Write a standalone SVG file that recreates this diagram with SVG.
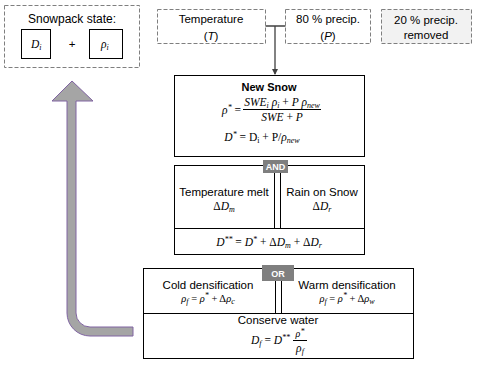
<svg xmlns="http://www.w3.org/2000/svg" width="477" height="365" viewBox="0 0 477 365">
<defs>
<style>
.t{font-family:"Liberation Sans",Arial,sans-serif;font-size:11.5px;fill:#000;text-anchor:middle}
.h{font-family:"Liberation Sans",Arial,sans-serif;font-size:11px;font-weight:bold;fill:#000;text-anchor:middle}
.m{font-family:"Liberation Serif","Times New Roman",serif;font-size:11.5px;font-style:italic;fill:#000}
.mc{text-anchor:middle}
.u{font-style:normal}
.s{font-size:8px}
.box{fill:#fff;stroke:#000;stroke-width:1}
.dash{fill:#fff;stroke:#7f7f7f;stroke-width:1;stroke-dasharray:4,2}
.tag{fill:#7f7f7f}
.tagt{font-family:"Liberation Sans",Arial,sans-serif;font-size:9px;font-weight:bold;fill:#fff;text-anchor:middle}
.ln{stroke:#000;stroke-width:1;fill:none}
.gl{stroke:#404040;stroke-width:1.3;fill:none}
</style>
<marker id="ah" markerWidth="6" markerHeight="6" refX="5" refY="3" orient="auto" markerUnits="userSpaceOnUse">
<path d="M0,0 L6,3 L0,6 Z" fill="#404040"/>
</marker>
</defs>

<g id="snowpack">
<rect class="dash" x="4.5" y="5.5" width="135" height="62"/>
<text class="t" x="72" y="23" style="font-size:12px">Snowpack state:</text>
<rect class="box" x="21.5" y="29.5" width="29" height="29"/>
<text class="m" x="31" y="48">D<tspan class="s" dy="2">i</tspan></text>
<text class="t" x="72" y="48">+</text>
<rect class="box" x="89.5" y="29.5" width="33" height="29"/>
<text class="m" x="101" y="48">ρ<tspan class="s" dy="2">i</tspan></text>
</g>

<g id="temperature">
<rect class="dash" x="157.5" y="9.5" width="108" height="34"/>
<text class="t" x="211" y="23">Temperature</text>
<text class="t" x="211" y="40">(<tspan style="font-style:italic">T</tspan>)</text>
</g>

<g id="precip">
<rect class="dash" x="285.5" y="9.5" width="85" height="34"/>
<text class="t" x="328" y="23">80 % precip.</text>
<text class="t" x="328" y="40">(<tspan style="font-style:italic">P</tspan>)</text>
</g>

<g id="removed">
<rect class="dash" x="381.5" y="9.5" width="90" height="34" style="fill:#f2f2f2"/>
<text class="t" x="426" y="24">20 % precip.</text>
<text class="t" x="426" y="39">removed</text>
</g>

<g id="connectors">
<path class="gl" d="M265.5,26 L285.5,26 M275,26 L275,74" marker-end="url(#ah)"/>
<path d="M52,101 L72,81 L93,101 L76,101 L76,313 A14,14 0 0 0 90,327 L133,327 L133,336 L90,336 A23,23 0 0 1 67,313 L67,101 Z" fill="#a5a5a5" stroke="#8064a2" stroke-width="1"/>
</g>

<g id="newsnow">
<rect class="box" x="174.5" y="75.5" width="190" height="81"/>
<text class="h" x="269" y="91">New Snow</text>
<text class="m" x="241" y="114" text-anchor="end">ρ<tspan class="s" dy="-4">*</tspan><tspan dy="4" class="u"> =</tspan></text>
<text class="m mc" x="282" y="106">SWE<tspan class="s" dy="2">i</tspan><tspan dy="-2"> ρ</tspan><tspan class="s" dy="2">i</tspan><tspan dy="-2" class="u"> + </tspan><tspan dy="0">P ρ</tspan><tspan class="s" dy="2">new</tspan></text>
<line class="ln" x1="243" y1="109.5" x2="321" y2="109.5"/>
<text class="m mc" x="282" y="121">SWE <tspan class="u">+</tspan> P</text>
<text class="m mc" x="262" y="141">D<tspan class="s" dy="-4">*</tspan><tspan dy="4" class="u"> =  D</tspan><tspan class="s u" dy="2">i</tspan><tspan dy="-2" class="u"> + P/</tspan>ρ<tspan class="s" dy="2">new</tspan></text>
</g>

<g id="and">
<rect class="box" x="174.5" y="165.5" width="190" height="89"/>
<line class="ln" x1="174.5" y1="228.5" x2="364.5" y2="228.5"/>
<line class="ln" x1="274.5" y1="172" x2="274.5" y2="228.5"/>
<line class="ln" x1="280.5" y1="172" x2="280.5" y2="228.5"/>
<rect class="tag" x="263" y="160" width="25" height="13"/>
<text class="tagt" x="275.5" y="170">AND</text>
<text class="t" x="224" y="196">Temperature melt</text>
<text class="m mc" x="224" y="210"><tspan class="u">Δ</tspan>D<tspan class="s" dy="2">m</tspan></text>
<text class="t" x="322" y="196">Rain on Snow</text>
<text class="m mc" x="322" y="210"><tspan class="u">Δ</tspan>D<tspan class="s" dy="2">r</tspan></text>
<text class="m mc" x="269" y="246">D<tspan class="s" dy="-4">**</tspan><tspan dy="4" class="u"> = </tspan>D<tspan class="s" dy="-4">*</tspan><tspan dy="4" class="u"> + Δ</tspan>D<tspan class="s" dy="2">m</tspan><tspan dy="-2" class="u"> + Δ</tspan>D<tspan class="s" dy="2">r</tspan></text>
</g>

<g id="or">
<rect class="box" x="143.5" y="268.5" width="270" height="90"/>
<line class="ln" x1="143.5" y1="313.5" x2="413.5" y2="313.5"/>
<line class="ln" x1="275.5" y1="280" x2="275.5" y2="313.5"/>
<line class="ln" x1="281.5" y1="280" x2="281.5" y2="313.5"/>
<rect class="tag" x="262" y="265" width="32" height="16"/>
<text class="tagt" x="278" y="276.5">OR</text>
<text class="t" x="208" y="289">Cold densification</text>
<text class="m mc" x="208" y="302" style="font-size:10.5px">ρ<tspan class="s" dy="2">f</tspan><tspan dy="-2" class="u"> = </tspan>ρ<tspan class="s" dy="-4">*</tspan><tspan dy="4" class="u"> +  Δ</tspan>ρ<tspan class="s" dy="2">c</tspan></text>
<text class="t" x="347" y="289">Warm densification</text>
<text class="m mc" x="347" y="302" style="font-size:10.5px">ρ<tspan class="s" dy="2">f</tspan><tspan dy="-2" class="u"> = </tspan>ρ<tspan class="s" dy="-4">*</tspan><tspan dy="4" class="u"> + Δ</tspan>ρ<tspan class="s" dy="2">w</tspan></text>
<text class="t" x="278" y="324">Conserve water</text>
<text class="m" x="251" y="344">D<tspan class="s" dy="2">f</tspan><tspan dy="-2" class="u"> = </tspan>D<tspan class="s" dy="-4">**</tspan></text>
<text class="m mc" x="300" y="337" style="font-size:10px">ρ<tspan class="s" dy="-3">*</tspan></text>
<line class="ln" x1="293" y1="340.5" x2="307" y2="340.5"/>
<text class="m mc" x="300" y="352">ρ<tspan class="s" dy="2">f</tspan></text>
</g>
</svg>
